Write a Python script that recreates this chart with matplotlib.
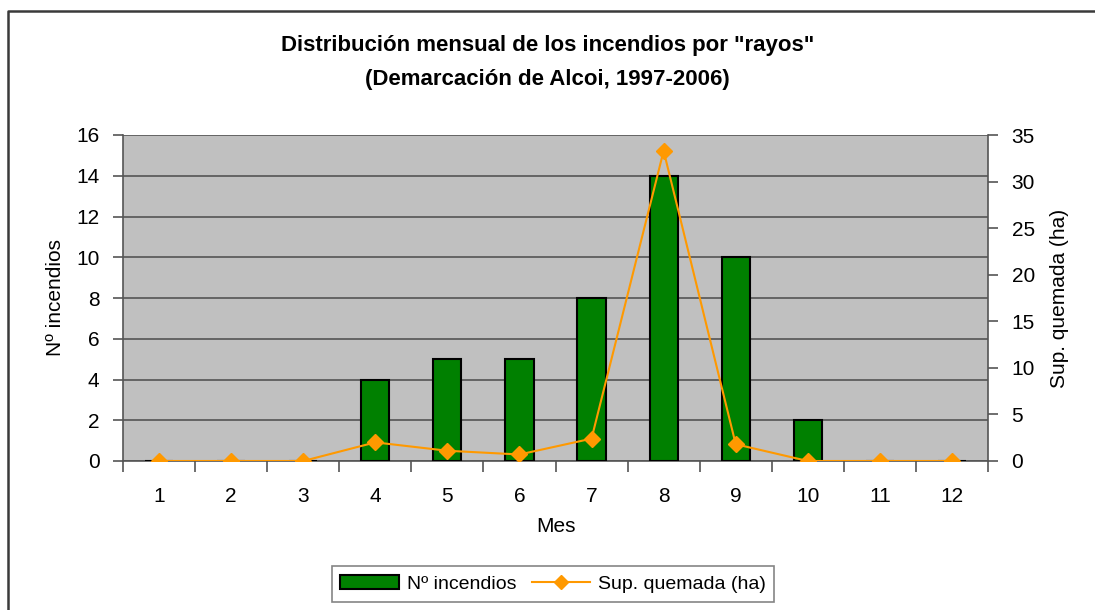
import matplotlib.pyplot as plt
from matplotlib.patches import Rectangle
from matplotlib.lines import Line2D

# monthly data
meses = [1, 2, 3, 4, 5, 6, 7, 8, 9, 10, 11, 12]
n_incendios = [0, 0, 0, 4, 5, 5, 8, 14, 10, 2, 0, 0]
sup_quemada = [0, 0, 0, 2.0, 1.1, 0.7, 2.4, 33.3, 1.8, 0, 0, 0]

plt.rcParams["font.family"] = ["Liberation Sans", "DejaVu Sans"]

fig = plt.figure(figsize=(10.95, 6.1), dpi=100)
# chart frame: only top and left edges are inside the picture
fig.lines.append(Line2D([8 / 1095, 8 / 1095, 1.0], [0.0, 1 - 11 / 610, 1 - 11 / 610],
                        transform=fig.transFigure, color="#3a3a3a", linewidth=1.8))

ax = fig.add_axes([123 / 1095, 1 - 461 / 610, (988 - 123) / 1095, (461 - 135) / 610])
ax.set_facecolor("#C0C0C0")
ax.bar(meses, n_incendios, width=0.39, color="#008000", edgecolor="black",
       linewidth=1.5, zorder=3)
ax.set_xlim(0.5, 12.5)
ax.set_ylim(0, 16)
ax.set_yticks(range(0, 17, 2))
ax.yaxis.grid(True, color="#555555", linewidth=1.2, zorder=0)
ax.set_axisbelow(True)
ax.set_xticks(meses)
ax.set_xticks([m + 0.5 for m in [0] + meses], minor=True)
ax.tick_params(axis="x", which="major", length=0, labelsize=15, pad=19)
ax.tick_params(axis="x", which="minor", length=8, width=1.2, color="#555555", direction="out")
ax.tick_params(axis="y", labelsize=15, length=7, width=1.2, color="#555555",
               direction="out", pad=10)
for s in ["top", "right"]:
    ax.spines[s].set_visible(False)
ax.spines["left"].set_color("#555555")
ax.spines["left"].set_linewidth(1.2)
ax.spines["bottom"].set_color("#555555")
ax.spines["bottom"].set_linewidth(1.2)
ax.set_xlabel("Mes", fontsize=15, labelpad=8)
ax.set_ylabel("Nº incendios", fontsize=15, labelpad=8)

ax2 = ax.twinx()
ax2.plot(meses, sup_quemada, color="#FF9900", linewidth=1.5, marker="D",
         markersize=8, zorder=4)
ax2.set_ylim(0, 35)
ax2.set_yticks(range(0, 36, 5))
ax2.tick_params(axis="y", labelsize=15, length=7, width=1.2, color="#555555",
                direction="out", pad=10)
for s in ["top", "left", "bottom"]:
    ax2.spines[s].set_visible(False)
ax2.spines["right"].set_color("#555555")
ax2.spines["right"].set_linewidth(1.2)
ax2.set_ylabel("Sup. quemada (ha)", fontsize=15, labelpad=11)

fig.text(0.5, 1 - 45 / 610, 'Distribución mensual de los incendios por "rayos"',
         ha="center", va="center", fontsize=16, fontweight="bold")
fig.text(0.5, 1 - 80 / 610, "(Demarcación de Alcoi, 1997-2006)",
         ha="center", va="center", fontsize=16, fontweight="bold")

handles = [Rectangle((0, 0), 1, 1, facecolor="#008000", edgecolor="black", linewidth=1.5),
           Line2D([], [], color="#FF9900", linewidth=1.5, marker="D", markersize=7)]
leg = fig.legend(handles, ["Nº incendios", "Sup. quemada (ha)"], loc="center",
                 bbox_to_anchor=(553 / 1095, 1 - 584 / 610), ncol=2, fontsize=14,
                 frameon=True, fancybox=False, edgecolor="#666666",
                 handlelength=3.0, columnspacing=0.8, handletextpad=0.4, borderpad=0.45)
leg.get_frame().set_linewidth(1.2)

plt.savefig("out.png", dpi=100)
